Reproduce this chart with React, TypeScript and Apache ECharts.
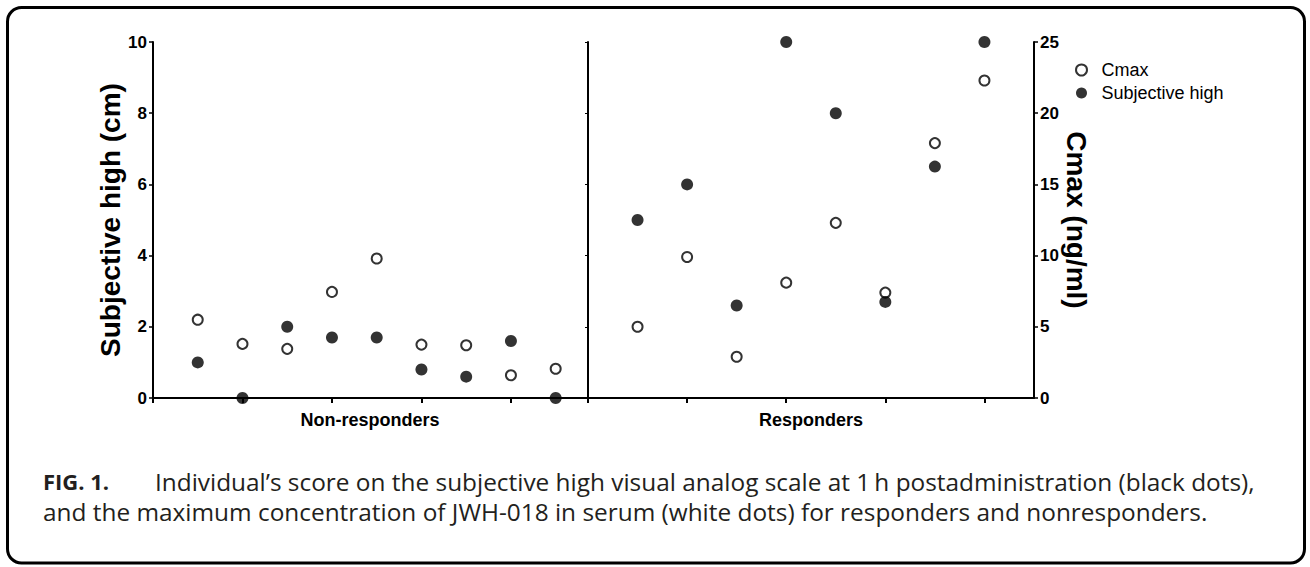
import React, { useEffect, useRef } from "react";
import * as echarts from "echarts";

const categories = ["Non-responders", "Responders"];
const legendNames = ["Cmax", "Subjective high"];
// Subjective high (cm), left axis
const nonRespSubjectiveHigh = [1.0, 0, 2.0, 1.7, 1.7, 0.8, 0.6, 1.6, 0];
const respSubjectiveHigh = [5.0, 6.0, 2.6, 10, 8.0, 2.7, 6.5, 10];
// Cmax (ng/ml), right axis
const nonRespCmax = [5.5, 3.8, 3.45, 7.45, 9.8, 3.75, 3.7, 1.6, 2.05];
const respCmax = [5.0, 9.9, 2.9, 8.1, 12.3, 7.4, 17.9, 22.3];
const subjTicks = { min: 0, max: 10, interval: 2 };
const cmaxTicks = { min: 0, max: 25, interval: 5 };
const xTickValues = [0, 2, 4, 6, 8];
const captionBold = "FIG. 1.";
const captionLine1 =
  "Individual\u2019s score on the subjective high visual analog scale at 1\u2009h postadministration (black dots),";
const captionLine2 =
  "and the maximum concentration of JWH-018 in serum (white dots) for responders and nonresponders.";

const AXIS_FONT = "'Liberation Sans', Arial, Helvetica, sans-serif";
const CAP_FONT = "'Open Sans', 'Noto Sans', sans-serif";
const INK = "#000";
const CAP_INK = "#231f20";

const toPoints = (arr: number[]) => arr.map((v, i) => [i + 1, v]);

export default function App() {
  const ref = useRef<HTMLDivElement>(null);
  useEffect(() => {
    if (!ref.current) return;
    const chart = echarts.init(ref.current, null, { renderer: "svg" });
    const axisLine = { onZero: false, lineStyle: { color: INK, width: 2 } };
    const xAxisBase = {
      type: "value",
      nameLocation: "middle",
      nameGap: 13,
      nameTextStyle: { fontSize: 18, fontWeight: "bold", fontFamily: AXIS_FONT, color: INK },
      axisLine,
      axisTick: { customValues: xTickValues, length: 5, lineStyle: { color: INK, width: 2 } },
      axisLabel: { show: false },
      splitLine: { show: false },
    };
    const labelStyle = { fontSize: 17, fontWeight: "bold", fontFamily: AXIS_FONT, color: INK, margin: 6 };
    const openStyle = { color: "#fff", borderColor: INK, borderWidth: 2 };
    const fillStyle = { color: INK };
    const option = {
      animation: false,
      backgroundColor: "#fff",
      grid: [
        { left: 153, top: 42, width: 434, height: 356 },
        { left: 588, top: 42, width: 446, height: 356 },
      ],
      xAxis: [
        { ...xAxisBase, gridIndex: 0, min: 0, max: 9.7, name: categories[0] },
        { ...xAxisBase, gridIndex: 1, min: 0, max: 9, name: categories[1] },
      ],
      yAxis: [
        {
          type: "value",
          gridIndex: 0,
          position: "left",
          ...subjTicks,
          name: "Subjective high (cm)",
          nameLocation: "middle",
          nameRotate: 90,
          nameGap: 27,
          nameTextStyle: { fontSize: 28, fontWeight: "bold", fontFamily: AXIS_FONT, color: INK },
          axisLine: { show: true, lineStyle: { color: INK, width: 2 } },
          axisTick: { show: true, length: 4, lineStyle: { color: INK, width: 1.5 } },
          axisLabel: labelStyle,
          splitLine: { show: false },
        },
        { type: "value", gridIndex: 0, ...cmaxTicks, show: false },
        {
          type: "value",
          gridIndex: 1,
          position: "left",
          ...subjTicks,
          axisLine: { show: true, lineStyle: { color: INK, width: 2 } },
          axisTick: { show: true, length: 3, lineStyle: { color: INK, width: 1 } },
          axisLabel: { show: false },
          splitLine: { show: false },
        },
        {
          type: "value",
          gridIndex: 1,
          position: "right",
          ...cmaxTicks,
          name: "Cmax (ng/ml)",
          nameLocation: "middle",
          nameRotate: -90,
          nameGap: 27,
          nameTextStyle: { fontSize: 28, fontWeight: "bold", fontFamily: AXIS_FONT, color: INK },
          axisLine: { show: true, lineStyle: { color: INK, width: 2 } },
          axisTick: { show: true, length: 4, lineStyle: { color: INK, width: 1.5 } },
          axisLabel: labelStyle,
          splitLine: { show: false },
        },
      ],
      legend: {
        orient: "vertical",
        left: 1070,
        top: 56,
        itemWidth: 30,
        itemHeight: 11,
        itemGap: 5,
        selectedMode: false,
        textStyle: { fontSize: 18, fontFamily: AXIS_FONT, color: INK },
        data: [
          { name: legendNames[0], icon: "circle", itemStyle: openStyle },
          { name: legendNames[1], icon: "circle", itemStyle: fillStyle },
        ],
      },
      series: [
        {
          name: legendNames[0], type: "scatter", xAxisIndex: 0, yAxisIndex: 1, clip: false,
          symbol: "circle", symbolSize: 10, itemStyle: openStyle, data: toPoints(nonRespCmax), z: 2,
        },
        {
          name: legendNames[1], type: "scatter", xAxisIndex: 0, yAxisIndex: 0, clip: false,
          symbol: "circle", symbolSize: 12, itemStyle: fillStyle, data: toPoints(nonRespSubjectiveHigh), z: 3,
        },
        {
          name: legendNames[0], type: "scatter", xAxisIndex: 1, yAxisIndex: 3, clip: false,
          symbol: "circle", symbolSize: 10, itemStyle: openStyle, data: toPoints(respCmax), z: 2,
        },
        {
          name: legendNames[1], type: "scatter", xAxisIndex: 1, yAxisIndex: 2, clip: false,
          symbol: "circle", symbolSize: 12, itemStyle: fillStyle, data: toPoints(respSubjectiveHigh), z: 3,
        },
      ],
      graphic: [
        {
          type: "rect",
          shape: { x: 7.5, y: 7.5, width: 1297, height: 555.5, r: 14 },
          style: { fill: "none", stroke: INK, lineWidth: 3 },
          silent: true,
        },
        {
          type: "text", x: 43, y: 481,
          style: { text: captionBold, fontSize: 22, fontWeight: "bold", fontFamily: CAP_FONT, fill: CAP_INK, verticalAlign: "middle" },
        },
        {
          type: "text", x: 155, y: 481,
          style: { text: captionLine1, fontSize: 24.4, fontFamily: CAP_FONT, fill: CAP_INK, verticalAlign: "middle" },
        },
        {
          type: "text", x: 43, y: 511,
          style: { text: captionLine2, fontSize: 24.4, fontFamily: CAP_FONT, fill: CAP_INK, verticalAlign: "middle" },
        },
      ],
    };
    chart.setOption(option as any);
    return () => chart.dispose();
  }, []);
  return (
    <div
      ref={ref}
      style={{ position: "absolute", left: 0, top: 0, width: 1310, height: 567 }}
    />
  );
}
